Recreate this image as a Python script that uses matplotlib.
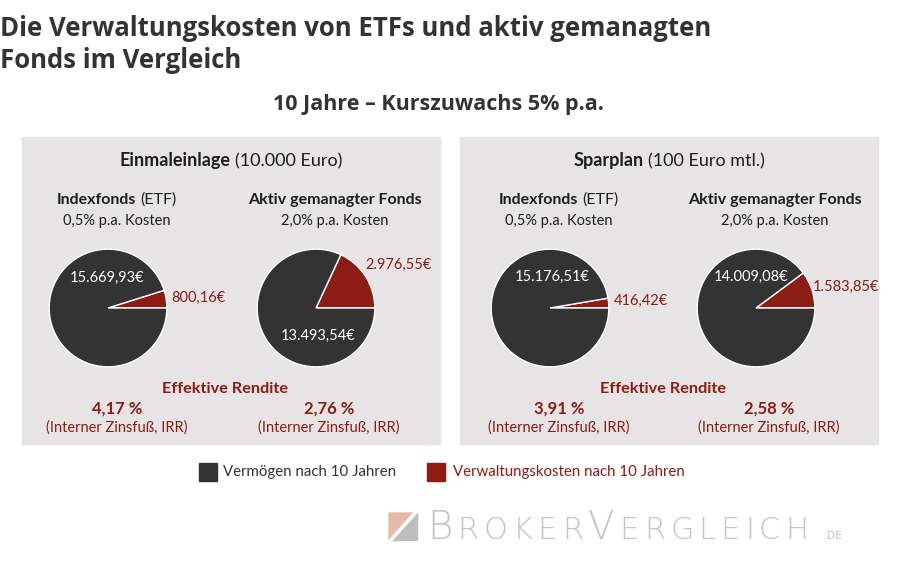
import matplotlib.pyplot as plt
from matplotlib.patches import Rectangle, Polygon

# ---- data ----
panel_titles = [("Einmaleinlage", "(10.000 Euro)"), ("Sparplan", "(100 Euro mtl.)")]
fund_names = [("Indexfonds", "(ETF)"), ("Aktiv gemanagter Fonds", "")]
fund_costs = ["0,5% p.a. Kosten", "2,0% p.a. Kosten"]
vermoegen = [15669.93, 13493.54, 15176.51, 14009.08]
kosten = [800.16, 2976.55, 416.42, 1583.85]
rendite = ["4,17 %", "2,76 %", "3,91 %", "2,58 %"]
legend_labels = ["Vermögen nach 10 Jahren", "Verwaltungskosten nach 10 Jahren"]

DARK = "#333333"
RED = "#8c1c14"
PANEL = "#e6e4e4"
FONT = "Lato"


def euro(v):
    s = f"{v:,.2f}".replace(",", "X").replace(".", ",").replace("X", ".")
    return s + "€"


fig = plt.figure(figsize=(9, 5.61), dpi=100)
ax = fig.add_axes([0, 0, 1, 1])
ax.set_xlim(0, 900)
ax.set_ylim(561, 0)
ax.axis("off")
renderer = fig.canvas.get_renderer()


def runs(x, y, parts, ha="center", gap=4):
    # draws several text pieces side by side on one baseline
    texts, widths = [], []
    for s, kw in parts:
        if not s:
            continue
        t = ax.text(0, y, s, va="baseline", ha="left", **kw)
        widths.append(t.get_window_extent(renderer).width)
        texts.append(t)
    total = sum(widths) + gap * (len(widths) - 1)
    start = x - total / 2 if ha == "center" else x
    for t, w in zip(texts, widths):
        t.set_x(start)
        start += w + gap


# titles
ax.text(0, 28, "Die Verwaltungskosten von ETFs und aktiv gemanagten", fontsize=18.5,
        fontweight="bold", family="Open Sans", color="#333333", va="center")
ax.text(0, 60, "Fonds im Vergleich", fontsize=18.5, fontweight="bold",
        family="Open Sans", color="#333333", va="center")
ax.text(438, 104, "10 Jahre – Kurszuwachs 5% p.a.", fontsize=15.5, fontweight="bold",
        family="Open Sans", color="#333333", va="center", ha="center")

# panels
panel_x = [22, 460]
panel_w = 418
pie_cx = [[108, 316], [550, 756]]
pie_cy = 308
pie_r = 60
dark_lbl = [(-0.02, 0.52), (0.03, -0.48), (0.03, 0.53), (-0.08, 0.53)]
red_lbl = [(1.08, 0.17), (0.84, 0.74), (1.08, 0.12), (0.97, 0.36)]

for p in range(2):
    x0 = panel_x[p]
    ax.add_patch(Rectangle((x0, 137), panel_w, 307, color=PANEL, zorder=0))
    runs(x0 + 209, 166, [(panel_titles[p][0], dict(fontsize=13, fontweight="bold", family=FONT, color="#1e1e1e")),
                         (panel_titles[p][1], dict(fontsize=13, family=FONT, color="#1e1e1e"))])
    ax.text(x0 + 203, 389, "Effektive Rendite", fontsize=11.7, fontweight="bold",
            family=FONT, color=RED, ha="center", va="center")
    for f in range(2):
        i = p * 2 + f
        cx = pie_cx[p][f]
        hx = cx + (9 if f == 0 else 19)
        runs(hx, 204, [(fund_names[f][0], dict(fontsize=11.5, fontweight="bold", family=FONT, color="#1e1e1e")),
                       (fund_names[f][1], dict(fontsize=11.5, family=FONT, color="#1e1e1e"))])
        ax.text(hx, 221, fund_costs[f], fontsize=10.5, family=FONT, color="#1e1e1e",
                ha="center", va="center")
        rx = cx + (9 if f == 0 else 13)
        ax.text(rx, 409, rendite[i], fontsize=12, fontweight="bold", family=FONT,
                color=RED, ha="center", va="center")
        ax.text(rx, 428, "(Interner Zinsfuß, IRR)", fontsize=10.5, family=FONT,
                color=RED, ha="center", va="center")

        pax = fig.add_axes([(cx - pie_r) / 900, 1 - (pie_cy + pie_r) / 561,
                            2 * pie_r / 900, 2 * pie_r / 561])
        pax.pie([kosten[i], vermoegen[i]], colors=[RED, DARK], startangle=0,
                counterclock=True, wedgeprops=dict(edgecolor="white", linewidth=1))
        pax.set_xlim(-1.02, 1.02)
        pax.set_ylim(-1.02, 1.02)
        pax.set_aspect("auto")
        pax.axis("off")
        pax.text(dark_lbl[i][0], dark_lbl[i][1], euro(vermoegen[i]), color="white",
                 fontsize=10.5, family=FONT, ha="center", va="center")
        pax.text(red_lbl[i][0], red_lbl[i][1], euro(kosten[i]), color=RED,
                 fontsize=10.5, family=FONT, ha="left", va="center", clip_on=False)

# legend
ax.add_patch(Rectangle((199, 463), 18, 18, color=DARK))
ax.text(223, 472, legend_labels[0], fontsize=10.8, family=FONT, color="#333333", va="center")
ax.add_patch(Rectangle((427, 463), 18, 18, color=RED))
ax.text(453, 472, legend_labels[1], fontsize=10.8, family=FONT, color=RED, va="center")

# logo
ax.add_patch(Polygon([(389, 513), (417, 513), (389, 540)], color="#e4bba9"))
ax.add_patch(Polygon([(417, 513), (417, 540), (389, 540)], color="#bdbdbd"))
ax.plot([389, 417], [542, 511], color="white", lw=2.5)
logo_big = dict(fontsize=28, family="DejaVu Sans", fontweight="light", color="#c4c4c4")
logo_small = dict(fontsize=22, family="DejaVu Sans", fontweight="light", color="#c4c4c4")
logo_tiny = dict(fontsize=8, family="DejaVu Sans", color="#c4c4c4")
logo_parts = [("B", logo_big)] + [(c, logo_small) for c in "ROKER"] + [("V", logo_big)] \
    + [(c, logo_small) for c in "ERGLEICH"]
runs(427, 539, logo_parts, ha="left", gap=5)
runs(824, 539, [(".DE", logo_tiny)], ha="left")

fig.savefig("out.png", dpi=100, facecolor="white")
